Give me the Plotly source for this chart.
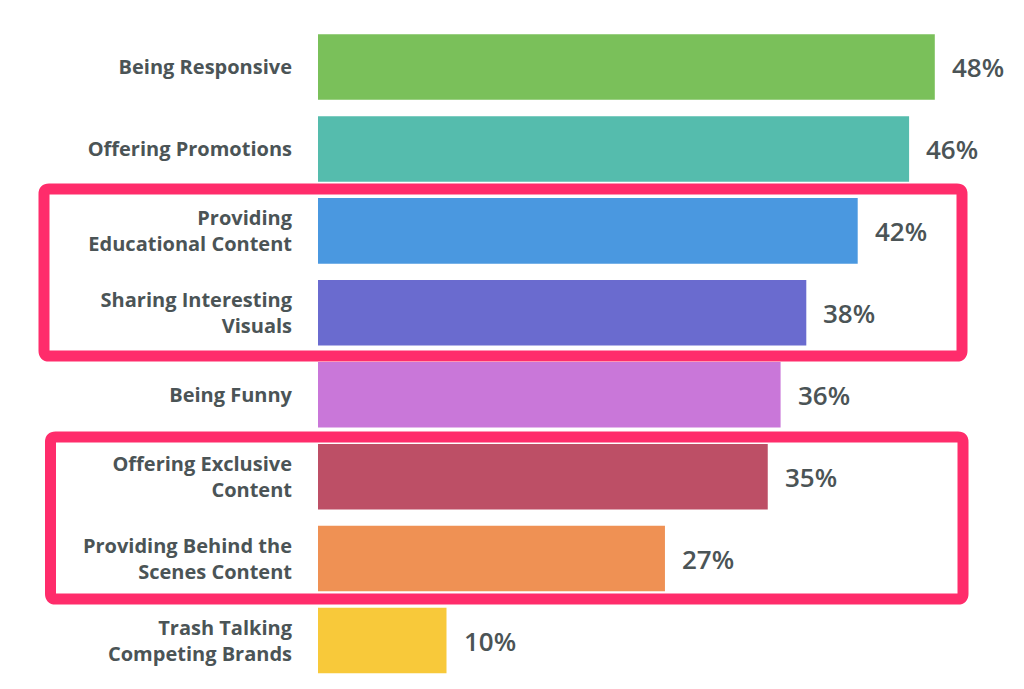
import plotly.graph_objects as go

categories = [
    "Being Responsive",
    "Offering Promotions",
    "Providing<br>Educational Content",
    "Sharing Interesting<br>Visuals",
    "Being Funny",
    "Offering Exclusive<br>Content",
    "Providing Behind the<br>Scenes Content",
    "Trash Talking<br>Competing Brands",
]
values = [48, 46, 42, 38, 36, 35, 27, 10]
colors = ["#7AC05A", "#55BCAD", "#4A98E0", "#6A6BCF",
          "#C977D9", "#BD4F66", "#EF9154", "#F8C93A"]

OFF = 8  # page body margin
W, H = 1024 - OFF, 689 - OFF
TEXT = "#4B5456"
PINK = "#FF2C6B"

fig = go.Figure(go.Bar(
    x=values, y=categories, orientation="h",
    marker=dict(color=colors, line=dict(width=0)),
    width=0.8, hoverinfo="skip",
))

for v, c in zip(values, categories):
    fig.add_annotation(x=v, y=c, text=f"{v}%", showarrow=False,
                       xanchor="left", xshift=15,
                       font=dict(family="Open Sans", size=26, color=TEXT, weight=600))

def px(x):
    return (x - OFF) / W

def py(y):
    return 1 - (y - OFF) / H

def rounded_rect(x0, y0, x1, y1, r=5):
    return (f"M {px(x0 + r)} {py(y0)} L {px(x1 - r)} {py(y0)} "
            f"Q {px(x1)} {py(y0)} {px(x1)} {py(y0 + r)} "
            f"L {px(x1)} {py(y1 - r)} Q {px(x1)} {py(y1)} {px(x1 - r)} {py(y1)} "
            f"L {px(x0 + r)} {py(y1)} Q {px(x0)} {py(y1)} {px(x0)} {py(y1 - r)} "
            f"L {px(x0)} {py(y0 + r)} Q {px(x0)} {py(y0)} {px(x0 + r)} {py(y0)} Z")

for box in [(44, 189, 962, 356), (50.5, 437, 963, 599)]:
    fig.add_shape(type="path", path=rounded_rect(*box), xref="paper", yref="paper",
                  line=dict(color=PINK, width=11), fillcolor="rgba(0,0,0,0)")

scale = 12.85
x_left = 318
step = 81.93
y0c = 67
fig.update_layout(
    width=W, height=H,
    margin=dict(l=0, r=0, t=0, b=0),
    paper_bgcolor="white", plot_bgcolor="white",
    showlegend=False,
    xaxis=dict(domain=[px(x_left), 1], range=[0, (1024 - x_left) / scale],
               showgrid=False, zeroline=False, showticklabels=False, showline=False),
    yaxis=dict(range=[(689 - y0c) / step, (OFF - y0c) / step], showgrid=False, zeroline=False,
               showline=False, ticks="", ticklabelstandoff=25,
               tickfont=dict(family="Open Sans", size=20, color=TEXT, weight=700)),
)

fig.write_html("out.html")
